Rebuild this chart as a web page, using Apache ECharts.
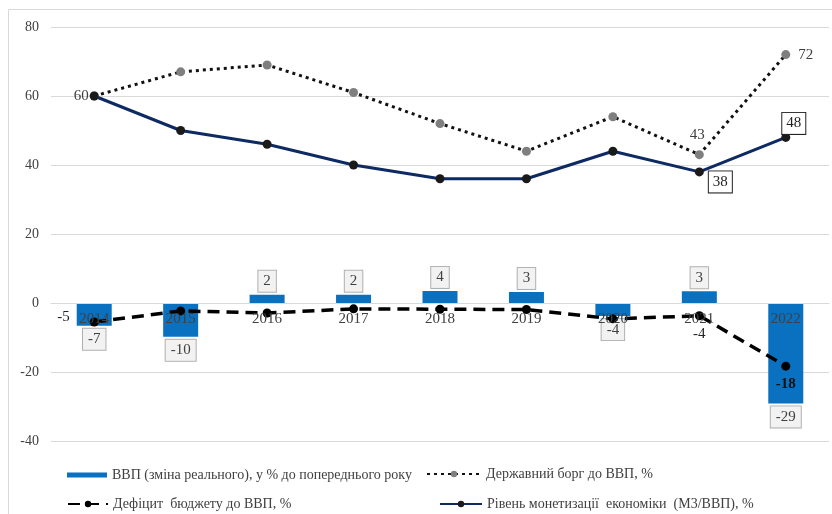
<!DOCTYPE html>
<html>
<head>
<meta charset="utf-8">
<script src="https://cdn.jsdelivr.net/npm/echarts@6/dist/echarts.min.js"></script>
<style>
html,body{margin:0;padding:0;background:#fff;}
#c{width:832px;height:514px;}
</style>
</head>
<body>
<div id="c"></div>
<script>
const years = ['2014','2015','2016','2017','2018','2019','2020','2021','2022'];
const gdpChange = [-6.6, -9.8, 2.4, 2.4, 3.5, 3.2, -3.8, 3.4, -29.1];
const publicDebt = [60, 67, 69, 61, 52, 44, 54, 43, 72];
const budgetDeficit = [-5.5, -2.3, -2.9, -1.7, -1.8, -1.9, -4.6, -3.7, -18.3];
const monetization = [60, 50, 46, 40, 36, 36, 44, 38, 48];
const yTicks = {min: -40, max: 80, interval: 20};

const names = {
  gdp: 'ВВП (зміна реального), у % до попереднього року',
  debt: 'Державний борг до ВВП, %',
  deficit: 'Дефіцит  бюджету до ВВП, %',
  money: 'Рівень монетизації  економіки  (М3/ВВП), %'
};

const FONT = '"Liberation Serif", "DejaVu Serif", serif';
const fmt = p => String(Math.round(p.value));

// which points carry labels (style only)
const debtLabels = {
  0: {show: true, position: 'left', distance: 5, offset: [4, 0], color: '#404040'},
  7: {show: true, position: 'top', distance: 8, offset: [-2, 0], color: '#404040'},
  8: {show: true, position: 'right', distance: 8, color: '#404040'}
};
const deficitLabels = {
  0: {show: true, position: 'left', distance: 20, offset: [0, -5], color: '#222'},
  7: {show: true, position: 'bottom', distance: 6, color: '#222'},
  8: {show: true, position: 'bottom', distance: 6, color: '#111', fontWeight: 'bold'}
};
const moneyLabels = {
  7: {show: true, position: [14, 4], color: '#222', backgroundColor: '#fff', borderColor: '#222', borderWidth: 1, padding: [3, 4]},
  8: {show: true, position: [1, -20], color: '#222', backgroundColor: '#fff', borderColor: '#222', borderWidth: 1, padding: [3, 4]}
};

function withLabels(values, labels) {
  return values.map((v, i) => labels[i] ? {value: v, label: labels[i]} : v);
}

const gdpData = gdpChange.map(v => ({
  value: v,
  label: {position: v >= 0 ? 'top' : 'bottom'}
}));

const chart = echarts.init(document.getElementById('c'));
const option = {
  backgroundColor: '#fff',
  animation: false,
  textStyle: {fontFamily: FONT},
  graphic: [{
    type: 'rect', shape: {x: 8.5, y: 9.5, width: 900, height: 600},
    style: {fill: 'none', stroke: '#d9d9d9', lineWidth: 1}, z: -10
  }],
  grid: {left: 51, right: 3, top: 27, bottom: 73, containLabel: false},
  xAxis: {
    type: 'category',
    data: years,
    z: 10,
    position: 'bottom',
    offset: 0,
    axisLine: {onZero: false, lineStyle: {color: '#d9d9d9', width: 1}},
    axisTick: {show: false},
    axisLabel: {color: '#404040', fontSize: 15, fontFamily: FONT, margin: 9}
  },
  yAxis: {
    type: 'value',
    min: yTicks.min, max: yTicks.max, interval: yTicks.interval,
    axisLine: {show: false},
    axisTick: {show: false},
    splitLine: {lineStyle: {color: '#d9d9d9', width: 1}},
    axisLabel: {color: '#404040', fontSize: 14, fontFamily: FONT, margin: 12}
  },
  legend: [
    {data: [names.gdp], left: 62, top: 463, itemWidth: 40, itemHeight: 5, icon: 'rect', itemGap: 0,
     textStyle: {fontFamily: FONT, fontSize: 14, color: '#404040'}},
    {data: [names.debt], left: 421, top: 462, itemWidth: 54, itemHeight: 8, itemGap: 0,
     textStyle: {fontFamily: FONT, fontSize: 14, color: '#404040'}},
    {data: [names.deficit], left: 62, top: 492, itemWidth: 40, itemHeight: 8, itemGap: 0,
     textStyle: {fontFamily: FONT, fontSize: 14, color: '#404040'}},
    {data: [names.money], left: 434, top: 492, itemWidth: 42, itemHeight: 8, itemGap: 0,
     textStyle: {fontFamily: FONT, fontSize: 14, color: '#404040'}}
  ],
  series: [
    {
      name: names.gdp,
      type: 'bar',
      data: gdpData,
      barWidth: 35,
      itemStyle: {color: '#0a70c0'},
      z: 2,
      label: {
        show: true, formatter: fmt, distance: 3,
        fontFamily: FONT, fontSize: 15, color: '#404040',
        backgroundColor: '#f2f2f2', borderColor: '#b0b0b0', borderWidth: 1, padding: [3, 5]
      }
    },
    {
      name: names.debt,
      type: 'line',
      data: withLabels(publicDebt, debtLabels),
      symbol: 'circle', symbolSize: 9,
      itemStyle: {color: '#7f7f7f'},
      lineStyle: {color: '#111', width: 3, type: [3, 4]},
      z: 3,
      label: {show: false, formatter: fmt, fontFamily: FONT, fontSize: 15}
    },
    {
      name: names.deficit,
      type: 'line',
      data: withLabels(budgetDeficit, deficitLabels),
      symbol: 'circle', symbolSize: 9,
      itemStyle: {color: '#000'},
      lineStyle: {color: '#000', width: 3.5, type: [12, 7]},
      z: 4,
      label: {show: false, formatter: fmt, fontFamily: FONT, fontSize: 15}
    },
    {
      name: names.money,
      type: 'line',
      data: withLabels(monetization, moneyLabels),
      symbol: 'circle', symbolSize: 9,
      itemStyle: {color: '#1a1a1a'},
      lineStyle: {color: '#0e2a63', width: 3},
      z: 3,
      label: {show: false, formatter: fmt, fontFamily: FONT, fontSize: 15}
    }
  ]
};
chart.setOption(option);
// move the category axis to the zero line of the value axis
const zeroY = chart.convertToPixel({yAxisIndex: 0}, 0);
const bottomY = chart.convertToPixel({yAxisIndex: 0}, yTicks.min);
chart.setOption({xAxis: {offset: -(bottomY - zeroY)}});
</script>
</body>
</html>
